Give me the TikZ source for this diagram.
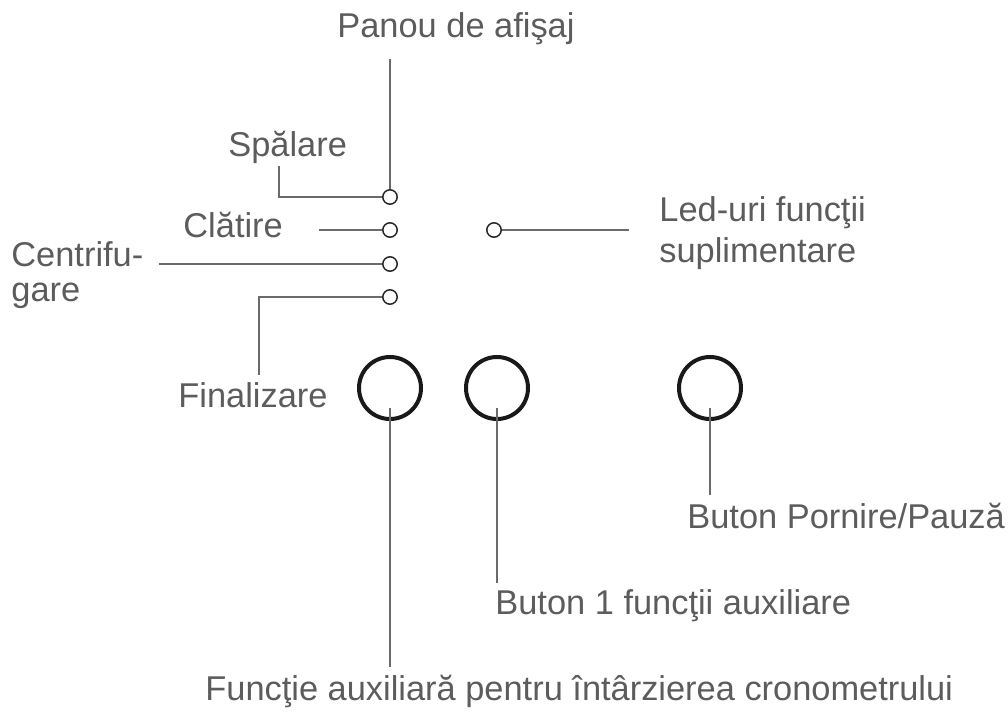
\documentclass[tikz,border=0pt]{standalone}
\usepackage{fontspec}
\setmainfont{Liberation Sans}
\usetikzlibrary{positioning}
\definecolor{txtgray}{HTML}{5C5C5C}
\definecolor{wiregray}{HTML}{6A6A6A}

\begin{document}
\begin{tikzpicture}[x=0.5pt, y=-0.5pt, font=\fontsize{17.2}{20}\selectfont,
  lbl/.style={text=txtgray, inner sep=0pt},
  led/.style={circle, draw=black!85, line width=0.75pt, minimum size=7.2pt, inner sep=0pt},
  btn/.style={circle, draw=black!90, line width=2pt, minimum size=31pt, inner sep=0pt},
  wire/.style={draw=wiregray, line width=1.1pt}]
\useasboundingbox (0,0) rectangle (1008,712);
% leds and buttons
\node[led] (L1) at (390,197) {};
\node[led] (L2) at (390,230) {};
\node[led] (L3) at (390,264) {};
\node[led] (L4) at (390,297) {};
\node[led] (L5) at (494,230) {};
\node[btn] (B1) at (390,388) {};
\node[btn] (B2) at (497,388) {};
\node[btn] (B3) at (710,388) {};
% labels
\node[lbl,anchor=base west] (panou) at (337,38) {Panou de afişaj};
\node[lbl,anchor=base west] (spal) at (228,156) {Spălare};
\node[lbl,anchor=base west] (clat) at (183,237) {Clătire};
\node[lbl,anchor=west,align=left,font=\fontsize{17.2}{17.5}\selectfont] (centr) at (11,275) {Centrifu-\\gare};
\node[lbl,anchor=base west] (final) at (178,407) {Finalizare};
\node[lbl,anchor=west,align=left,font=\fontsize{17.2}{20.5}\selectfont] (ledf) at (659,233) {Led-uri funcţii\\suplimentare};
\node[lbl,anchor=base west] (start) at (687,528) {Buton Pornire/Pauză};
\node[lbl,anchor=base west] (aux1) at (495,614) {Buton 1 funcţii auxiliare};
\node[lbl,anchor=base west] (timer) at (205,700) {Funcţie auxiliară pentru întârzierea cronometrului};
% wires
\coordinate (p0) at (390,59);
\coordinate (s0) at (279,166);
\coordinate (c0) at (319,230);
\coordinate (g0) at (159,264);
\coordinate (f0) at (259,375);
\coordinate (e0) at (629,230);
\draw[wire] (p0) -- (L1.north);
\draw[wire] (s0) |- (L1.west);
\draw[wire] (c0) -- (L2.west);
\draw[wire] (g0) -- (L3.west);
\draw[wire] (f0) |- (L4.west);
\draw[wire] (L5.east) -- (e0);
\coordinate (b1) at (390,408);
\coordinate (b2) at (497,408);
\coordinate (b3) at (710,408);
\draw[wire] (b1) -- (390,667);
\draw[wire] (b2) -- (497,583);
\draw[wire] (b3) -- (710,495);
\end{tikzpicture}
\end{document}
